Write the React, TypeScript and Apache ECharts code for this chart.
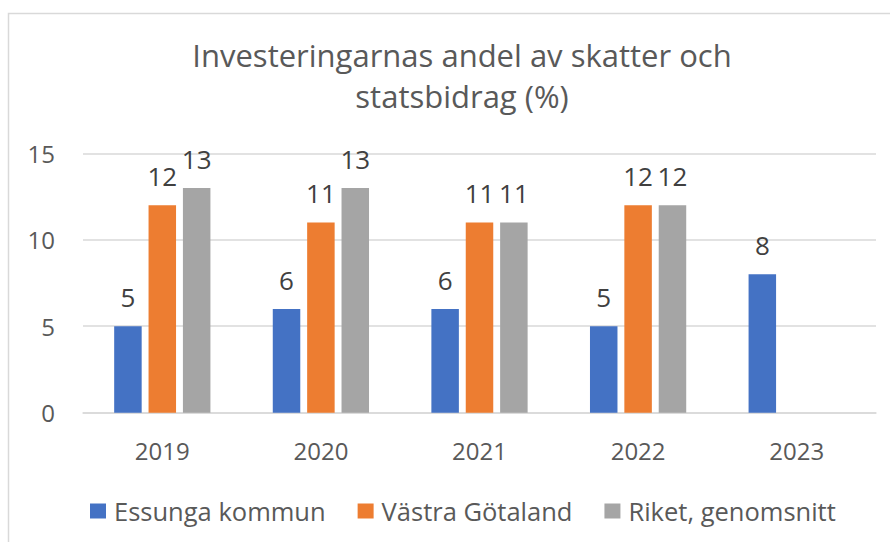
import React, { useEffect, useRef } from "react";
import * as echarts from "echarts";

const categories = ["2019", "2020", "2021", "2022", "2023"];
const essunga = [5, 6, 6, 5, 8];
const vastraGotaland = [12, 11, 11, 12, null];
const riket = [13, 13, 11, 12, null];
const seriesNames = ["Essunga kommun", "Västra Götaland", "Riket, genomsnitt"];
const colors = ["#4472C4", "#ED7D31", "#A5A5A5"];
const titleText = "Investeringarnas andel av skatter och\nstatsbidrag (%)";

const FONT = "'Open Sans', sans-serif";

export default function App() {
  const ref = useRef<HTMLDivElement>(null);
  useEffect(() => {
    document.body.style.margin = "0";
    const chart = echarts.init(ref.current!, null, { renderer: "svg" });
    const mk = (i: number, data: (number | null)[]) => ({
      type: "bar",
      name: seriesNames[i],
      data,
      barWidth: 27.5,
      barGap: "25%",
      itemStyle: { color: colors[i] },
      label: {
        show: true,
        position: "top",
        distance: 16,
        fontFamily: FONT,
        fontSize: 26,
        color: "#404040",
      },
    });
    chart.setOption({
      animation: false,
      backgroundColor: "#ffffff",
      title: {
        text: titleText,
        left: 457,
        textAlign: "center",
        top: 29,
        textStyle: {
          fontFamily: FONT,
          fontSize: 31,
          fontWeight: "normal",
          color: "#595959",
          lineHeight: 41,
        },
      },
      graphic: [
        {
          type: "rect",
          shape: { x: 8.5, y: 13.5, width: 900, height: 600 },
          style: { fill: "none", stroke: "#d9d9d9", lineWidth: 1.5 },
          silent: true,
        },
      ],
      grid: { left: 83, right: 14, top: 153.3, bottom: 129.3 },
      xAxis: {
        type: "category",
        data: categories,
        axisLine: { show: true, lineStyle: { color: "#d9d9d9", width: 1.5 } },
        axisTick: { show: false },
        axisLabel: {
          fontFamily: FONT,
          fontSize: 24,
          color: "#595959",
          margin: 26,
        },
      },
      yAxis: {
        type: "value",
        min: 0,
        max: 15,
        interval: 5,
        axisLine: { show: false },
        axisTick: { show: false },
        splitLine: { lineStyle: { color: "#d9d9d9", width: 1.5 } },
        axisLabel: {
          fontFamily: FONT,
          fontSize: 24,
          color: "#595959",
          margin: 28,
        },
      },
      legend: {
        left: 85,
        top: 493,
        icon: "rect",
        itemWidth: 16,
        itemHeight: 15,
        itemGap: 32,
        textStyle: {
          fontFamily: FONT,
          fontSize: 25.5,
          color: "#595959",
          padding: [0, 0, 0, 3],
        },
        data: seriesNames,
      },
      series: [mk(0, essunga), mk(1, vastraGotaland), mk(2, riket)],
    });
    return () => chart.dispose();
  }, []);
  return (
    <div
      ref={ref}
      style={{ position: "absolute", left: 0, top: 0, width: 890, height: 542 }}
    />
  );
}
